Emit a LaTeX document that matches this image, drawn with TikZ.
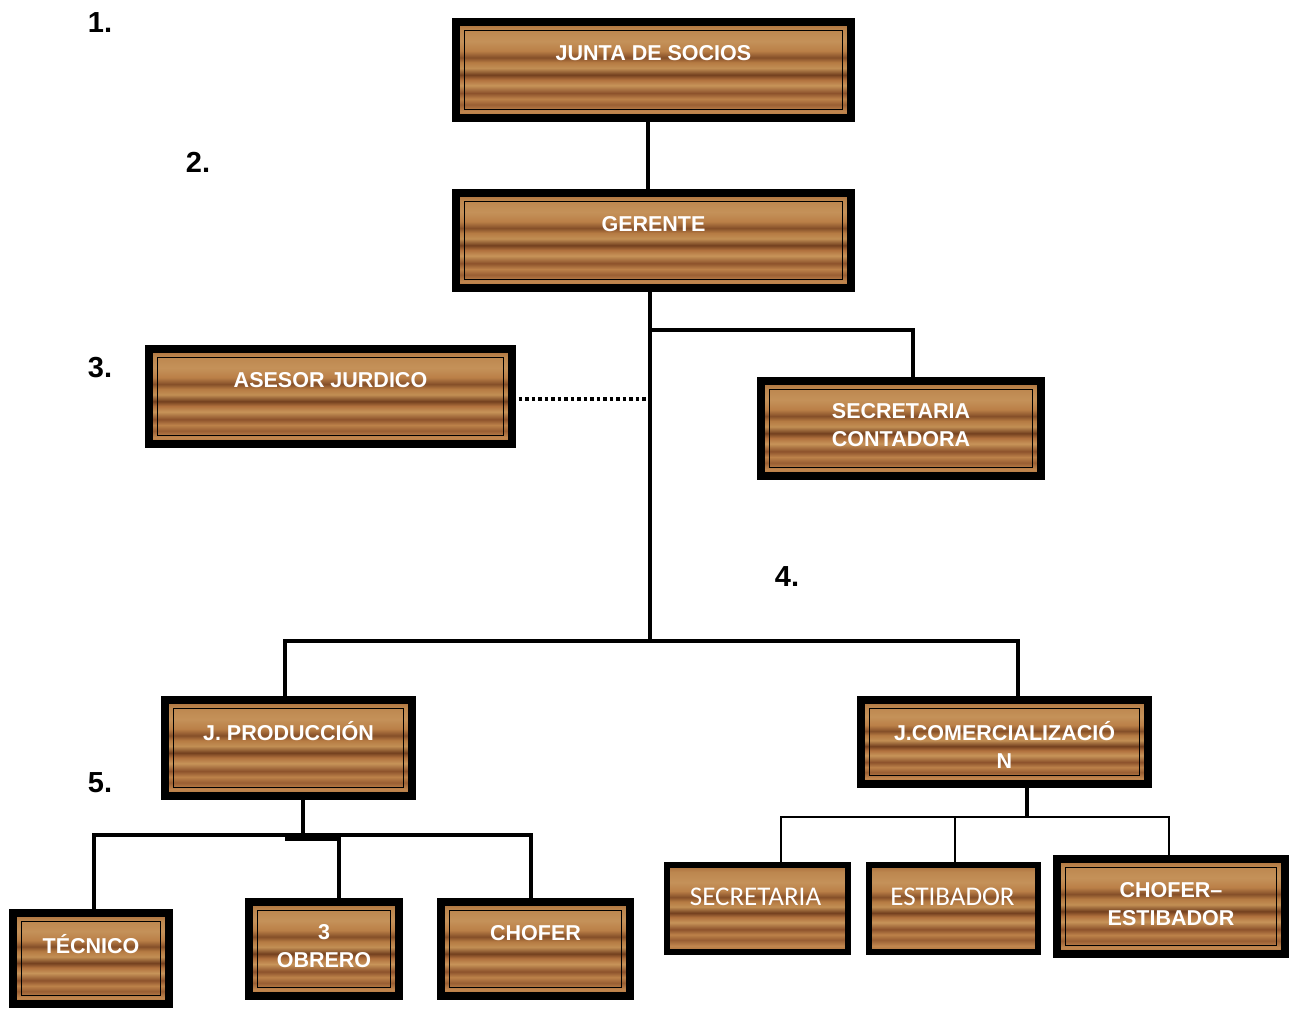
\documentclass[tikz,border=0pt]{standalone}
\usepackage{fontspec}
\setmainfont{Liberation Sans}
\newfontfamily\calib{Carlito}
\pgfdeclareverticalshading{woodgrain}{100bp}{
rgb(0bp)=(0.66,0.43,0.23);
rgb(25bp)=(0.66,0.43,0.23);
rgb(28.5bp)=(0.76,0.53,0.31);
rgb(32bp)=(0.60,0.37,0.20);
rgb(35bp)=(0.74,0.51,0.29);
rgb(38bp)=(0.55,0.32,0.17);
rgb(42bp)=(0.78,0.58,0.35);
rgb(45bp)=(0.69,0.44,0.24);
rgb(47.5bp)=(0.45,0.25,0.12);
rgb(51bp)=(0.76,0.56,0.33);
rgb(54bp)=(0.71,0.48,0.26);
rgb(56.5bp)=(0.52,0.31,0.16);
rgb(60bp)=(0.73,0.50,0.28);
rgb(65bp)=(0.77,0.57,0.35);
rgb(71bp)=(0.74,0.53,0.31);
rgb(75bp)=(0.66,0.42,0.22);
rgb(100bp)=(0.66,0.42,0.22)}
\tikzset{
  woodplain/.style={rectangle, inner sep=0pt, outer sep=0pt, draw=black, line width=6pt,
    shade, shading=woodgrain},
  woodframe/.style={rectangle, inner sep=0pt, outer sep=0pt, draw=black, line width=8pt,
    shade, shading=woodgrain,
    path picture={\draw[black,line width=1.6pt]
      ([shift={(8.5,-8.5)}]path picture bounding box.north west) rectangle
      ([shift={(-8.5,8.5)}]path picture bounding box.south east);}},
  lbl/.style={text=white, font=\bfseries\fontsize{21.5}{28}\selectfont, align=center, inner sep=0pt},
  lblc/.style={text=white, font=\calib\fontsize{27}{30}\selectfont, align=center, inner sep=0pt},
  num/.style={font=\bfseries\fontsize{29}{32}\selectfont, inner sep=0pt},
  conn/.style={draw=black, line width=3.5pt},
  thinconn/.style={draw=black, line width=2pt},
  dotconn/.style={draw=black, line width=3.5pt, dash pattern=on 3.5pt off 3pt}
}
\begin{document}
\begin{tikzpicture}[x=1pt,y=1pt]
\useasboundingbox[fill=white] (0,0) rectangle (1290,-1009);

\coordinate (hub) at (650,-641);
\coordinate (gbranch) at (650,-330);
\coordinate (pbus) at (303,-835);
\coordinate (pstub) at (285,-839);
\coordinate (cbus) at (1027,-817);

% boxes
\node[woodframe, minimum width=395, minimum height=96] (junta) at (653.5,-70) {};
\node[woodframe, minimum width=395, minimum height=95] (gerente) at (653.5,-240.5) {};
\node[woodframe, minimum width=363, minimum height=95] (asesor) at (330.5,-396.5) {};
\node[woodframe, minimum width=280, minimum height=95] (seccont) at (901,-428.5) {};
\node[woodframe, minimum width=247, minimum height=96] (jprod) at (288.5,-748) {};
\node[woodframe, minimum width=287, minimum height=84] (jcom) at (1004.5,-742) {};
\node[woodframe, minimum width=156, minimum height=91] (tecnico) at (91,-958.5) {};
\node[woodframe, minimum width=150, minimum height=94] (obrero) at (324,-949) {};
\node[woodframe, minimum width=189, minimum height=94] (chofer) at (535.5,-949) {};
\node[woodplain, minimum width=181, minimum height=87] (secret) at (757.5,-908.5) {};
\node[woodplain, minimum width=169, minimum height=87] (estib) at (953.5,-908.5) {};
\node[woodframe, minimum width=228, minimum height=95] (choferest) at (1171,-906.5) {};

% connectors
\draw[conn] ([xshift=-5.5]junta.south) -- ([xshift=-5.5]gerente.north);
\draw[conn] ([xshift=-3.5]gerente.south) -- (hub);
\draw[conn] (gbranch) -| ([xshift=12]seccont.north);
\draw[dotconn] ([yshift=-2.5]asesor.east) -- ([yshift=-2.5]asesor.east -| hub);
\draw[conn] ([xshift=-3.5]jprod.north) |- (hub) -| ([xshift=13.5]jcom.north);
\draw[conn] ([xshift=14.5]jprod.south) -- (pbus);
\draw[conn] ([xshift=3]tecnico.north) |- (pbus);
\draw[conn] ([xshift=-4.5]chofer.north) |- (pbus);
\draw[conn] ([xshift=15]obrero.north) |- (pstub);
\draw[conn] ([xshift=22.5]jcom.south) -- (cbus);
\draw[thinconn] ([xshift=23.5]secret.north) |- (cbus);
\draw[thinconn] ([xshift=-2]choferest.north) |- (cbus);
\draw[thinconn] ([xshift=1.5]estib.north) -- ([xshift=1.5]estib.north |- cbus);

% redraw box borders over connector ends
\foreach \n in {junta,gerente,asesor,seccont,jprod,jcom,tecnico,obrero,chofer,choferest}
  \draw[black,line width=8pt] (\n.north west) rectangle (\n.south east);
\foreach \n in {secret,estib}
  \draw[black,line width=6pt] (\n.north west) rectangle (\n.south east);

% texts
\node[lbl] (tjunta) at ([yshift=17]junta.center) {JUNTA DE SOCIOS};
\node[lbl] (tgerente) at ([yshift=16]gerente.center) {GERENTE};
\node[lbl] (tasesor) at ([yshift=16]asesor.center) {ASESOR JURDICO};
\node[lbl] (tseccont) at ([yshift=3]seccont.center) {SECRETARIA\\CONTADORA};
\node[lbl] (tjprod) at ([yshift=17]jprod.center) {J. PRODUCCIÓN};
\node[lbl] (tjcom) at ([yshift=-3]jcom.center) {J.COMERCIALIZACIÓ\\N};
\node[lbl] (ttecnico) at ([yshift=14]tecnico.center) {TÉCNICO};
\node[lbl] (tobrero) at ([yshift=2.5]obrero.center) {3\\OBRERO};
\node[lbl] (tchofer) at ([yshift=16]chofer.center) {CHOFER};
\node[lblc] (tsecret) at ([yshift=12,xshift=-2]secret.center) {SECRETARIA};
\node[lblc] (testib) at ([yshift=12,xshift=-1]estib.center) {ESTIBADOR};
\node[lbl] (tchoferest) at ([yshift=2.5]choferest.center) {CHOFER–\\ESTIBADOR};

% numbers
\node[num] (n1) at (100,-23) {1.};
\node[num] (n2) at (198,-162) {2.};
\node[num] (n3) at (100,-368) {3.};
\node[num] (n4) at (787,-577) {4.};
\node[num] (n5) at (100,-783) {5.};
\end{tikzpicture}
\end{document}
